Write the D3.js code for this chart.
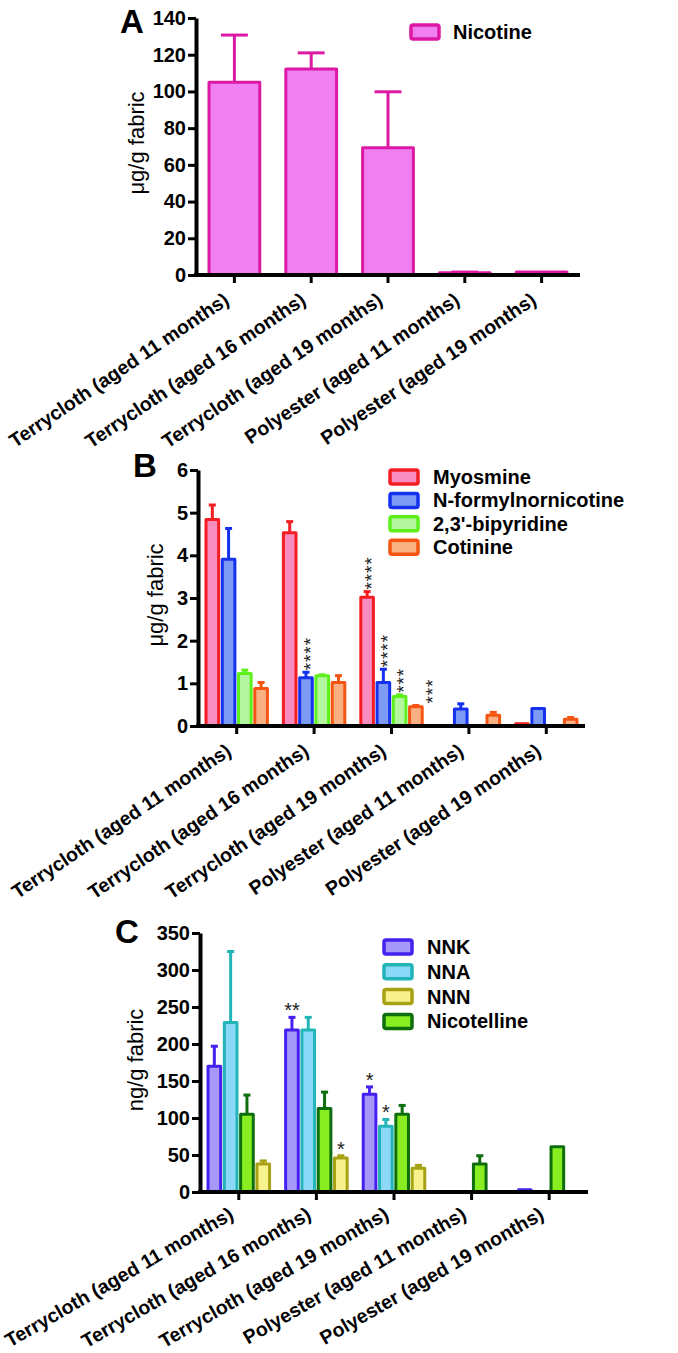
<!DOCTYPE html>
<html>
<head>
<meta charset="utf-8">
<script src="https://cdn.jsdelivr.net/npm/d3@7"></script>
<style>
  html, body { margin: 0; padding: 0; background: #fff; }
  svg { display: block; font-family: "Liberation Sans", Arial, sans-serif; }
</style>
</head>
<body>
<svg id="chart" width="678" height="1353"></svg>
<script>
// ---------------- DATA ----------------
const categories = [
  "Terrycloth (aged 11 months)",
  "Terrycloth (aged 16 months)",
  "Terrycloth (aged 19 months)",
  "Polyester (aged 11 months)",
  "Polyester (aged 19 months)"
];

// Panel A (µg/g fabric)
const nicotine    = [105, 112.2, 69.3, 1.2, 1.6];
const nicotineErr = [25.7, 8.8, 30.5, 0.4, 0];
const yTicksA = [0, 20, 40, 60, 80, 100, 120, 140];

// Panel B (µg/g fabric)
const myosmine       = [4.84, 4.53, 3.02, 0, 0.05];
const myosmineErr    = [0.34, 0.26, 0.13, 0, 0];
const nFormyl        = [3.91, 1.13, 1.02, 0.40, 0.41];
const nFormylErr     = [0.72, 0.13, 0.31, 0.12, 0];
const bipyridine     = [1.23, 1.18, 0.69, 0, 0.01];
const bipyridineErr  = [0.08, 0.02, 0.04, 0, 0];
const cotinine       = [0.88, 1.02, 0.45, 0.25, 0.16];
const cotinineErr    = [0.14, 0.16, 0.03, 0.07, 0.04];
const yTicksB = [0, 1, 2, 3, 4, 5, 6];
const starsB = [
  { group: 1, series: "N-formylnornicotine", text: "****", dx: 0 },
  { group: 2, series: "Myosmine", text: "****", dx: 0 },
  { group: 2, series: "N-formylnornicotine", text: "****", dx: 0 },
  { group: 2, series: "2,3'-bipyridine", text: "***", dx: 0 },
  { group: 2, series: "Cotinine", text: "***", dx: 12 }
];

// Panel C (ng/g fabric)
const nnk            = [170, 219, 132, 0, 3];
const nnkErr         = [27, 17, 10, 0, 0];
const nna            = [229, 219, 89, 0, 0];
const nnaErr         = [96, 17, 9, 0, 0];
const nnn            = [38, 46, 32, 0, 0];
const nnnErr         = [4, 3, 4, 0, 0];
const nicotelline    = [105, 113, 105, 38, 61];
const nicotellineErr = [26, 22, 12, 11, 0];
const yTicksC = [0, 50, 100, 150, 200, 250, 300, 350];
const barOrderC = ["NNK", "NNA", "Nicotelline", "NNN"];
const starsC = [
  { group: 1, series: "NNK", text: "**" },
  { group: 2, series: "NNK", text: "*" },
  { group: 2, series: "NNA", text: "*" },
  { group: 1, series: "NNN", text: "*" }
];

// ---------------- STYLES ----------------
const seriesA = [
  { name: "Nicotine", values: nicotine, err: nicotineErr, fill: "#f07ff2", stroke: "#dc18a4" }
];
const seriesB = [
  { name: "Myosmine", values: myosmine, err: myosmineErr, fill: "#f68cbf", stroke: "#f41e22" },
  { name: "N-formylnornicotine", values: nFormyl, err: nFormylErr, fill: "#7d9af4", stroke: "#1432ee" },
  { name: "2,3'-bipyridine", values: bipyridine, err: bipyridineErr, fill: "#b4f5a0", stroke: "#5ef01c" },
  { name: "Cotinine", values: cotinine, err: cotinineErr, fill: "#f9b083", stroke: "#f55512" }
];
const seriesC = [
  { name: "NNK", values: nnk, err: nnkErr, fill: "#a698f8", stroke: "#4620f0" },
  { name: "NNA", values: nna, err: nnaErr, fill: "#8bd8f8", stroke: "#22b4b6" },
  { name: "NNN", values: nnn, err: nnnErr, fill: "#f8f28e", stroke: "#a6a214" },
  { name: "Nicotelline", values: nicotelline, err: nicotellineErr, fill: "#88ee22", stroke: "#0e6e0e" }
];

const svg = d3.select("#chart");
const FONT = "'Liberation Sans', Arial, sans-serif";

function panel(cfg) {
  const g = svg.append("g");
  const x0 = d3.scaleBand().domain(categories).range([cfg.xStart, cfg.xEnd]).paddingInner(0).paddingOuter(0);
  const y = d3.scaleLinear().domain([0, cfg.yMax]).range([cfg.yBottom, cfg.yTop]);
  const order = cfg.order || cfg.series.map(s => s.name);
  const x1 = d3.scaleBand().domain(order).range([0, x0.bandwidth()]).paddingInner(cfg.innerPad).paddingOuter(cfg.outerPad);
  const sw = cfg.strokeW;

  // bars
  cfg.series.forEach(s => {
    const sg = g.append("g");
    const bw = x1.bandwidth();
    categories.forEach((c, i) => {
      const v = s.values[i];
      if (v <= 0) return;
      const bx = x0(c) + x1(s.name);
      sg.append("rect")
        .attr("x", bx + sw / 2)
        .attr("y", y(v))
        .attr("width", bw - sw)
        .attr("height", y(0) - y(v))
        .attr("fill", s.fill)
        .attr("stroke", s.stroke)
        .attr("stroke-width", sw)
        .attr("stroke-linejoin", "round");
      const e = s.err[i];
      if (e > 0) {
        const cx = bx + bw / 2;
        const cap = bw * cfg.capFrac;
        sg.append("line")
          .attr("x1", cx).attr("x2", cx)
          .attr("y1", y(v)).attr("y2", y(v + e))
          .attr("stroke", s.stroke).attr("stroke-width", sw);
        sg.append("line")
          .attr("x1", cx - cap / 2).attr("x2", cx + cap / 2)
          .attr("y1", y(v + e)).attr("y2", y(v + e))
          .attr("stroke", s.stroke).attr("stroke-width", sw)
          .attr("stroke-linecap", "butt");
      }
    });
  });

  // stars
  if (cfg.stars) {
    cfg.stars.forEach(st => {
      const s = cfg.series.find(d => d.name === st.series);
      const c = categories[st.group];
      const v = s.values[st.group] + s.err[st.group];
      const cx = x0(c) + x1(s.name) + x1.bandwidth() / 2 + (st.dx || 0);
      if (cfg.starsVertical) {
        const fs = 19;
        g.append("text")
          .attr("transform", `translate(${cx + 0.57 * fs},${y(v) - 2}) rotate(-90)`)
          .attr("text-anchor", "start")
          .attr("font-size", fs).attr("font-family", FONT)
          .attr("letter-spacing", 0.9)
          .attr("fill", "#222")
          .text(st.text);
      } else {
        const yc = y(v) - 11;
        g.append("text")
          .attr("x", cx).attr("y", yc + 0.55 * 20)
          .attr("text-anchor", "middle")
          .attr("font-size", 20).attr("font-family", FONT)
          .attr("fill", "#222")
          .text(st.text);
      }
    });
  }

  // axes
  const yAxis = d3.axisLeft(y).tickValues(cfg.yTicks).tickFormat(d3.format("d"))
    .tickSize(8).tickSizeOuter(0).tickPadding(2);
  const ya = g.append("g").attr("transform", `translate(${cfg.xStart},0)`).call(yAxis);
  ya.select(".domain").attr("stroke", "#000").attr("stroke-width", 4);
  ya.selectAll(".tick line").attr("stroke", "#000").attr("stroke-width", 3);
  ya.selectAll(".tick text").attr("font-size", 20).attr("font-weight", "bold")
    .attr("font-family", FONT).attr("fill", "#000");

  const xAxis = d3.axisBottom(x0).tickSize(8).tickSizeOuter(0).tickFormat("");
  const xa = g.append("g").attr("transform", `translate(0,${cfg.yBottom})`).call(xAxis);
  xa.select(".domain").attr("stroke", "#000").attr("stroke-width", 4)
    .attr("d", `M${cfg.xStart - 2},0H${cfg.xEnd}`);
  xa.selectAll(".tick line").attr("stroke", "#000").attr("stroke-width", 3);

  // x labels
  categories.forEach(c => {
    const tx = x0(c) + x0.bandwidth() / 2;
    g.append("text")
      .attr("transform", `translate(${tx - 4},${cfg.yBottom + cfg.labelDy}) rotate(${cfg.labelAngle})`)
      .attr("text-anchor", "end")
      .attr("font-size", 19.5).attr("font-weight", "bold")
      .attr("font-family", FONT).attr("fill", "#000")
      .text(c);
  });

  // y title
  g.append("text")
    .attr("transform", `translate(${cfg.yTitleX},${cfg.yTitleY}) rotate(-90)`)
    .attr("text-anchor", "middle")
    .attr("dominant-baseline", "central")
    .attr("font-size", 22)
    .attr("font-family", FONT).attr("fill", "#000")
    .text(cfg.yTitle);

  // panel letter
  g.append("text")
    .attr("x", cfg.letterX).attr("y", cfg.letterY)
    .attr("font-size", 33).attr("font-weight", "bold")
    .attr("font-family", FONT).attr("fill", "#000")
    .text(cfg.letter);

  // legend
  const lg = g.append("g");
  cfg.series.forEach((s, i) => {
    const cy = cfg.legY + i * cfg.legStep;
    lg.append("rect")
      .attr("x", cfg.legX).attr("y", cy - 7)
      .attr("width", 28).attr("height", 14)
      .attr("rx", 2)
      .attr("fill", s.fill).attr("stroke", s.stroke).attr("stroke-width", 3.5);
    lg.append("text")
      .attr("x", cfg.legTextX).attr("y", cy + 7)
      .attr("font-size", 20).attr("font-weight", "bold")
      .attr("font-family", FONT).attr("fill", "#000")
      .text(s.name);
  });
}

panel({
  series: seriesA, yMax: 140, yTicks: yTicksA,
  xStart: 196, xEnd: 580, yBottom: 275, yTop: 18,
  innerPad: 0.3, outerPad: 0.15, capFrac: 0.5, strokeW: 3,
  labelDy: 28, labelAngle: -34,
  yTitle: "μg/g fabric", yTitleX: 136, yTitleY: 143,
  letter: "A", letterX: 120, letterY: 33,
  legX: 411, legY: 32, legStep: 24, legTextX: 453
});

panel({
  series: seriesB, yMax: 6, yTicks: yTicksB,
  xStart: 198, xEnd: 585, yBottom: 726, yTop: 470,
  innerPad: 0.04, outerPad: 0.4, capFrac: 0.45, strokeW: 3,
  stars: starsB, starsVertical: true,
  labelDy: 28, labelAngle: -34,
  yTitle: "μg/g fabric", yTitleX: 155, yTitleY: 595,
  letter: "B", letterX: 133, letterY: 477,
  legX: 390, legY: 477, legStep: 23.4, legTextX: 433
});

panel({
  series: seriesC, order: barOrderC, yMax: 350, yTicks: yTicksC,
  xStart: 200, xEnd: 588, yBottom: 1192, yTop: 933,
  innerPad: 0.04, outerPad: 0.4, capFrac: 0.45, strokeW: 3,
  stars: starsC, starsVertical: false,
  labelDy: 26, labelAngle: -30,
  yTitle: "ng/g fabric", yTitleX: 135, yTitleY: 1060,
  letter: "C", letterX: 115, letterY: 943,
  legX: 384, legY: 947, legStep: 24.8, legTextX: 427
});
</script>
</body>
</html>
